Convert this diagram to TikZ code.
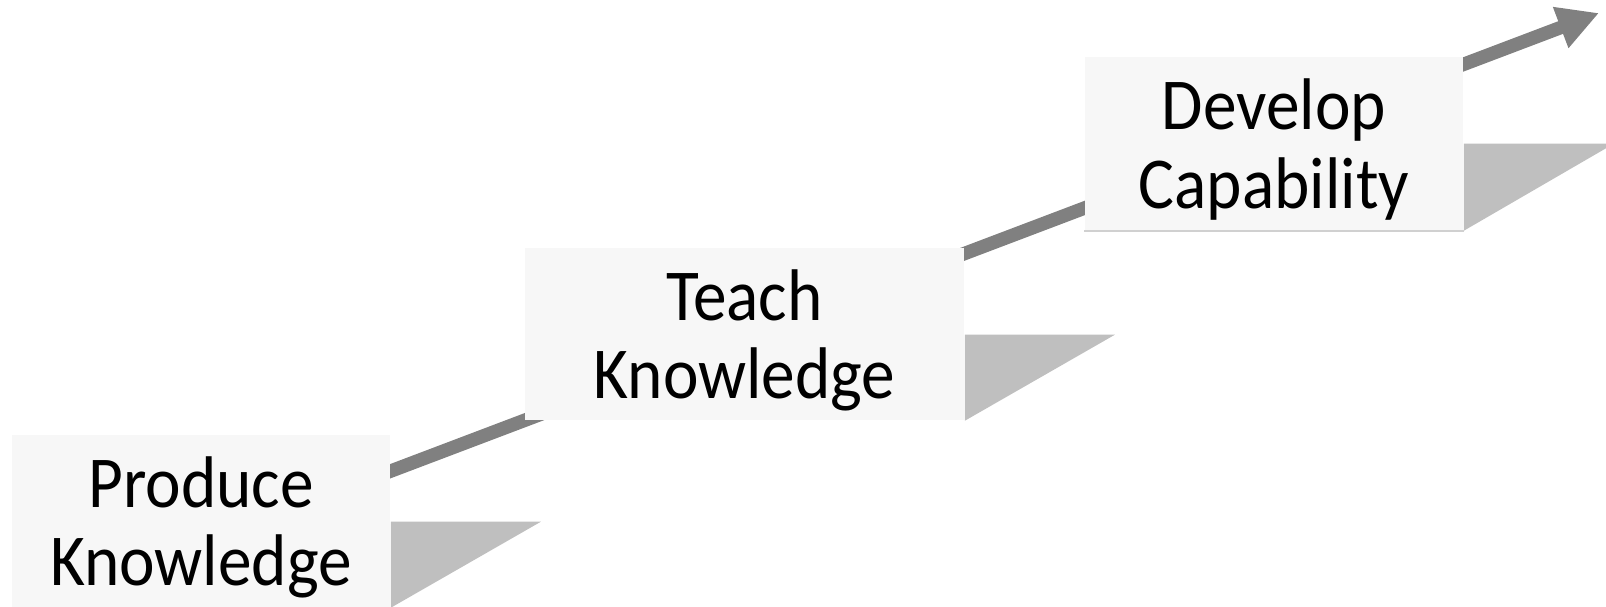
\documentclass[tikz,border=0pt]{standalone}
\usepackage{fontspec}
\setmainfont[FakeStretch=0.92]{Carlito}
\usetikzlibrary{arrows.meta}
\definecolor{boxfill}{HTML}{F7F7F7}
\definecolor{shadowgray}{HTML}{BFBFBF}
\definecolor{linegray}{HTML}{808080}
\definecolor{edgegray}{HTML}{D0D0D0}
\tikzset{
  stage/.style={fill=boxfill, inner sep=0pt, align=center,
    font=\fontsize{20.8pt}{22.3pt}\selectfont, text depth=0pt},
  ramp/.style={fill=shadowgray},
  growth/.style={draw=linegray, line width=0.135cm,
    -{Triangle[length=0.41cm,width=0.41cm]}}
}
\begin{document}
\begin{tikzpicture}[x=0.01cm,y=-0.01cm]
  \useasboundingbox (0,0) rectangle (1606,607);
  \coordinate (start) at (201,543);
  \coordinate (tip) at (1599,13);
  \draw[growth] (start) -- (tip);
  \node[stage, minimum width=3.78cm, minimum height=1.72cm] at (201,521) (produce) {Produce\\Knowledge};
  \node[stage, minimum width=4.39cm, minimum height=1.72cm] at (744.5,334) (teach) {Teach\\Knowledge};
  \node[stage, minimum width=3.78cm, minimum height=1.73cm] at (1274,143.5) (develop) {Develop\\Capability};
  \fill[ramp] (produce.south east) -- ++(0,-86) -- ++(150,0) -- cycle;
  \fill[ramp] (teach.south east) -- ++(0,-86) -- ++(150,0) -- cycle;
  \fill[ramp] (develop.south east) -- ++(0,-87) -- ++(150,0) -- cycle;
  \draw[edgegray, line width=0.02cm] (develop.south west) -- (develop.south east);
\end{tikzpicture}
\end{document}
